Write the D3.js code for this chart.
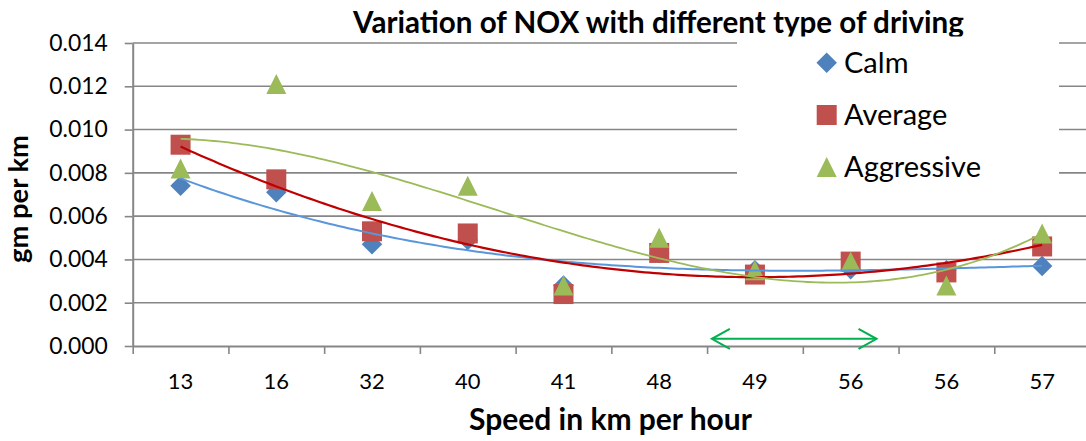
<!DOCTYPE html>
<html>
<head>
<meta charset="utf-8">
<script src="https://cdn.jsdelivr.net/npm/d3@7"></script>
<style>
  html, body { margin: 0; padding: 0; background: #fff; }
  svg { display: block; }
  text { font-family: Lato, "Open Sans", sans-serif; fill: #000; }
</style>
</head>
<body>
<svg id="chart" width="1086" height="441"></svg>
<script>
// ---- data ----
const categories = ["13", "16", "32", "40", "41", "48", "49", "56", "56", "57"];
const calm       = [0.0074, 0.0071, 0.0047, 0.0049, 0.0028, 0.0043, 0.0035, 0.00355, 0.0035, 0.0037];
const average    = [0.0093, 0.0077, 0.0053, 0.0052, 0.0024, 0.0043, 0.0033, 0.0039, 0.0034, 0.0046];
const aggressive = [0.0082, 0.0121, 0.0067, 0.0074, 0.0028, 0.0050, 0.0035, 0.0039, 0.0028, 0.0052];
const seriesNames = ["Calm", "Average", "Aggressive"];
const yTicks = [0, 0.002, 0.004, 0.006, 0.008, 0.010, 0.012, 0.014];
const trendOrders = [3, 2, 3];
const titleText = "Variation of NOX with different type of driving";
const xTitle = "Speed in km per hour";
const yTitle = "gm per km";
// arrow annotation (in category-boundary units and value units)
const arrowFrom = 6.05, arrowTo = 7.77, arrowValue = 0.00033;

// ---- layout ----
const W = 1086, H = 441;
const plot = { left: 132.7, right: 1090, top: 43, bottom: 346 };
const svg = d3.select("#chart");

// scale a text's font-size so its rendered width matches a target width
function fitWidth(sel, target) {
  const node = sel.node();
  const fs = parseFloat(sel.attr("font-size"));
  const w = node.getComputedTextLength();
  const nfs = fs * target / w;
  sel.attr("font-size", nfs);
  return nfs;
}

const x = d3.scaleBand().domain(d3.range(categories.length)).range([plot.left, plot.right]).padding(0);
const xb = d3.scaleLinear().domain([0, categories.length]).range([plot.left, plot.right]);
const xc = d3.scaleLinear().domain([1, categories.length])
  .range([x(0) + x.bandwidth() / 2, x(categories.length - 1) + x.bandwidth() / 2]);
const y = d3.scaleLinear().domain([0, 0.014]).range([plot.bottom, plot.top]);

const gridColor = "#868686";

// gridlines
svg.append("g").selectAll("line").data(yTicks.filter(d => d > 0)).join("line")
  .attr("x1", plot.left).attr("x2", W)
  .attr("y1", d => y(d)).attr("y2", d => y(d))
  .attr("stroke", gridColor).attr("stroke-width", 1.6);

// y axis
const yAxis = svg.append("g").attr("transform", `translate(${plot.left},0)`)
  .call(d3.axisLeft(y).tickValues(yTicks).tickFormat(d3.format(".3f")).tickSize(8).tickSizeOuter(0).tickPadding(17));
yAxis.select(".domain").attr("stroke", gridColor).attr("stroke-width", 2);
yAxis.selectAll(".tick line").attr("stroke", gridColor).attr("stroke-width", 1.6);
yAxis.selectAll("text").attr("font-size", 23).attr("font-family", "Lato").attr("fill", "#000");
{
  const t = yAxis.selectAll("text").filter(d => d === 0.014);
  const fs = fitWidth(t, 58.5);
  yAxis.selectAll("text").attr("font-size", fs);
}

// x axis: boundary ticks
const xTickAxis = svg.append("g").attr("transform", `translate(0,${plot.bottom})`)
  .call(d3.axisBottom(xb).tickValues(d3.range(0, categories.length + 1)).tickFormat("").tickSize(8).tickSizeOuter(0));
xTickAxis.select(".domain").attr("stroke", gridColor).attr("stroke-width", 2);
xTickAxis.selectAll(".tick line").attr("stroke", gridColor).attr("stroke-width", 1.6);

// x axis labels
const xLab = svg.append("g").attr("transform", `translate(0,${plot.bottom})`)
  .call(d3.axisBottom(x).tickFormat(i => categories[i]).tickSize(0).tickPadding(27));
xLab.select(".domain").remove();
xLab.selectAll("text").attr("font-size", 22).attr("font-family", "Lato").attr("fill", "#000");
{
  const t = xLab.selectAll("text").filter(d => d === 0);
  const fs = fitWidth(t, 25.5);
  xLab.selectAll("text").attr("font-size", fs);
}

// ---- polynomial least squares ----
function polyfit(xs, ys, order) {
  const n = order + 1;
  const A = Array.from({length: n}, () => new Array(n + 1).fill(0));
  for (let r = 0; r < n; r++) {
    for (let c = 0; c < n; c++) A[r][c] = d3.sum(xs, xv => Math.pow(xv, r + c));
    A[r][n] = d3.sum(xs, (xv, i) => ys[i] * Math.pow(xv, r));
  }
  for (let i = 0; i < n; i++) {
    let p = i;
    for (let k = i + 1; k < n; k++) if (Math.abs(A[k][i]) > Math.abs(A[p][i])) p = k;
    [A[i], A[p]] = [A[p], A[i]];
    for (let k = i + 1; k < n; k++) {
      const f = A[k][i] / A[i][i];
      for (let j = i; j <= n; j++) A[k][j] -= f * A[i][j];
    }
  }
  const coef = new Array(n).fill(0);
  for (let i = n - 1; i >= 0; i--) {
    let s = A[i][n];
    for (let j = i + 1; j < n; j++) s -= A[i][j] * coef[j];
    coef[i] = s / A[i][i];
  }
  return xv => coef.reduce((acc, cf, k) => acc + cf * Math.pow(xv, k), 0);
}

// ---- symbols ----
const diamondType = { draw(ctx, size) { const r = Math.sqrt(size) / 2; ctx.moveTo(0, -r); ctx.lineTo(r, 0); ctx.lineTo(0, r); ctx.lineTo(-r, 0); ctx.closePath(); } };
const squareType = { draw(ctx, size) { const s = Math.sqrt(size) / 2; ctx.rect(-s, -s, 2 * s, 2 * s); } };
const triangleType = { draw(ctx, size) { const s = Math.sqrt(size) / 2; ctx.moveTo(0, -s); ctx.lineTo(s, s); ctx.lineTo(-s, s); ctx.closePath(); } };

const series = [
  { name: seriesNames[0], values: calm, color: "#4F81BD", trend: "#5A96DA", tw: 2, type: diamondType, size: 420 },
  { name: seriesNames[1], values: average, color: "#C0504D", trend: "#C00000", tw: 2.2, type: squareType, size: 400 },
  { name: seriesNames[2], values: aggressive, color: "#9BBB59", trend: "#9BBB59", tw: 1.8, type: triangleType, size: 400 }
];

// markers
series.forEach(s => {
  svg.append("g").selectAll("path").data(s.values).join("path")
    .attr("transform", (d, i) => `translate(${x(i) + x.bandwidth() / 2},${y(d)})`)
    .attr("d", d3.symbol(s.type, s.size))
    .attr("fill", s.color);
});

// trendlines
const xs = d3.range(1, categories.length + 1);
series.forEach((s, si) => {
  const f = polyfit(xs, s.values, trendOrders[si]);
  const pts = d3.range(1, categories.length + 0.0001, 0.05).map(v => [xc(v), y(f(v))]);
  svg.append("path").datum(pts)
    .attr("d", d3.line().curve(d3.curveLinear))
    .attr("fill", "none").attr("stroke", s.trend).attr("stroke-width", s.tw);
});

// arrow annotation
const ay = y(arrowValue), ax1 = xb(arrowFrom), ax2 = xb(arrowTo);
const arrow = svg.append("g").attr("stroke", "#00B050").attr("stroke-width", 2).attr("fill", "none");
arrow.append("line").attr("x1", ax1).attr("x2", ax2).attr("y1", ay).attr("y2", ay);
arrow.append("path").attr("d", `M${ax1 + 18},${ay - 10} L${ax1},${ay} L${ax1 + 18},${ay + 10}`);
arrow.append("path").attr("d", `M${ax2 - 18},${ay - 10} L${ax2},${ay} L${ax2 - 18},${ay + 10}`);

// legend
const legend = svg.append("g");
legend.append("rect").attr("x", 737).attr("y", 38).attr("width", 322).attr("height", 160).attr("fill", "#fff");
const legendY = [62.7, 115, 167];
const legendTexts = [];
series.forEach((s, i) => {
  legend.append("path").attr("transform", `translate(826.7,${legendY[i]})`)
    .attr("d", d3.symbol(s.type, s.size)).attr("fill", s.color);
  legendTexts.push(legend.append("text").attr("x", 844).attr("y", legendY[i]).attr("dy", "0.36em")
    .attr("font-size", 27).text(s.name));
});
{
  const fs = fitWidth(legendTexts[2], 137);
  legendTexts.forEach(t => t.attr("font-size", fs));
}

// title (clipped at bottom like the reference)
svg.append("clipPath").attr("id", "titleClip").append("rect").attr("x", 0).attr("y", 0).attr("width", W).attr("height", 36.5);
const title = svg.append("text").attr("x", 658.5).attr("y", 32.5).attr("text-anchor", "middle")
  .attr("font-size", 26).attr("font-weight", "bold").attr("clip-path", "url(#titleClip)").text(titleText);
fitWidth(title, 611);

// axis titles
const xt = svg.append("text").attr("x", 610.5).attr("y", 430).attr("text-anchor", "middle")
  .attr("font-size", 26).attr("font-weight", "bold").text(xTitle);
fitWidth(xt, 283);
const yt = svg.append("text").attr("transform", "translate(28,199) rotate(-90)").attr("text-anchor", "middle")
  .attr("font-size", 26).attr("font-weight", "bold").text(yTitle);
fitWidth(yt, 128);
</script>
</body>
</html>
